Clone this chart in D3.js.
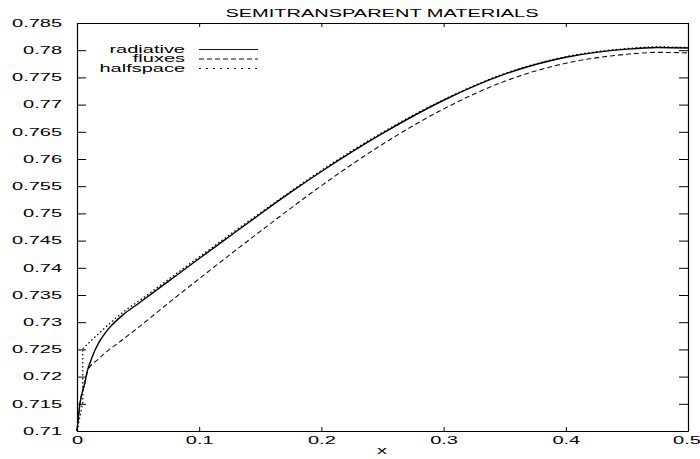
<!DOCTYPE html>
<html>
<head>
<meta charset="utf-8">
<script src="https://cdn.jsdelivr.net/npm/d3@7"></script>
<style>
  html, body { margin: 0; padding: 0; background: #fff; }
  svg { display: block; }
  text { font-family: "Liberation Sans", Arial, Helvetica, sans-serif; fill: #000; }
</style>
</head>
<body>
<svg id="chart" width="700" height="459"></svg>
<script>
// ---- data ----
const titleText = "SEMITRANSPARENT MATERIALS";
const xLabelText = "x";
const seriesNames = ["radiative", "fluxes", "halfspace"];

const xTicks = [0, 0.1, 0.2, 0.3, 0.4, 0.5];
const xTickLabels = ["0", "0.1", "0.2", "0.3", "0.4", "0.5"];
const yTicks = [0.71, 0.715, 0.72, 0.725, 0.73, 0.735, 0.74, 0.745, 0.75, 0.755, 0.76, 0.765, 0.77, 0.775, 0.78, 0.785];
const yTickLabels = ["0.71", "0.715", "0.72", "0.725", "0.73", "0.735", "0.74", "0.745", "0.75", "0.755", "0.76", "0.765", "0.77", "0.775", "0.78", "0.785"];

const radiativeX = [0, 0.0025, 0.006, 0.0088, 0.011, 0.0133, 0.0155, 0.0188, 0.023, 0.027, 0.0379, 0.05, 0.075, 0.1, 0.125, 0.15, 0.175, 0.2, 0.25, 0.3, 0.35, 0.4, 0.45, 0.475, 0.5];
const radiativeY = [0.71, 0.7152, 0.7185, 0.7213, 0.72275, 0.7241, 0.7252, 0.7266, 0.7280, 0.7291, 0.7314, 0.7334, 0.73755, 0.7417, 0.7458, 0.7499, 0.7539, 0.7577, 0.7647, 0.7708, 0.7756, 0.7787, 0.7802, 0.7805, 0.7804];

const fluxesX = [0, 0.0025, 0.006, 0.009, 0.0174, 0.0379, 0.05, 0.075, 0.1, 0.15, 0.2, 0.25, 0.3, 0.35, 0.4, 0.45, 0.475, 0.5];
const fluxesY = [0.71, 0.7151, 0.7184, 0.7212, 0.7232, 0.7269, 0.7290, 0.73355, 0.7380, 0.7467, 0.7551, 0.7627, 0.7692, 0.7743, 0.7776, 0.77925, 0.7796, 0.7795];

const halfspaceX = [0, 0.0047, 0.0047, 0.012, 0.027, 0.0379, 0.05, 0.075, 0.1, 0.15, 0.2, 0.25, 0.3, 0.35, 0.4, 0.45, 0.475, 0.5];
const halfspaceY = [0.71, 0.7152, 0.7251, 0.7267, 0.7298, 0.7319, 0.7338, 0.7379, 0.7420, 0.7501, 0.7579, 0.7649, 0.7709, 0.7757, 0.7788, 0.7803, 0.7806, 0.7805];
const halfspaceJump = 2; // index where the smooth part begins

(function () {
// ---- layout ----
const svg = d3.select("#chart");
const W = 700, H = 459;
const pLeft = 77, pRight = 688, pTop = 23, pBottom = 431;
const SX = 2; // horizontal text stretch of the original rendering
svg.append("rect").attr("width", W).attr("height", H).attr("fill", "#fff");

const x = d3.scaleLinear().domain([0, 0.5]).range([pLeft, pRight]);
const y = d3.scaleLinear().domain([0.71, 0.785]).range([pBottom, pTop]);

function styleAxis(g) {
  g.attr("font-size", 10).attr("font-family", null);
  g.select(".domain").attr("stroke", "#000").attr("stroke-width", 1.2);
  g.selectAll(".tick line").attr("stroke", "#000").attr("stroke-width", 1);
}

// left axis
const gL = svg.append("g").attr("transform", `translate(${pLeft},0)`)
  .call(d3.axisLeft(y).tickValues(yTicks).tickFormat((d, i) => yTickLabels[i])
    .tickSize(-9).tickSizeOuter(0).tickPadding(0));
styleAxis(gL);
gL.selectAll(".tick text").attr("x", -15 / SX).attr("transform", `scale(${SX},1)`).attr("fill", "#000");

// right axis (mirror ticks)
const gR = svg.append("g").attr("transform", `translate(${pRight},0)`)
  .call(d3.axisRight(y).tickValues(yTicks).tickFormat("").tickSize(-9).tickSizeOuter(0));
styleAxis(gR);

// bottom axis
const gB = svg.append("g").attr("transform", `translate(0,${pBottom})`)
  .call(d3.axisBottom(x).tickValues(xTicks).tickFormat((d, i) => xTickLabels[i])
    .tickSize(-4).tickSizeOuter(0).tickPadding(6));
styleAxis(gB);
gB.selectAll(".tick text").attr("transform", `scale(${SX},1)`).attr("fill", "#000")
  .attr("x", d => (d === 0.5 ? -0.8 : 0));

// top axis (mirror ticks)
const gT = svg.append("g").attr("transform", `translate(0,${pTop})`)
  .call(d3.axisTop(x).tickValues(xTicks).tickFormat("").tickSize(-4).tickSizeOuter(0));
styleAxis(gT);

// ---- curves ----
const zip = (xs, ys) => xs.map((v, i) => [v, ys[i]]);
const lineSmooth = d3.line().x(d => x(d[0])).y(d => y(d[1])).curve(d3.curveMonotoneX);
const lineStraight = d3.line().x(d => x(d[0])).y(d => y(d[1]));

const plot = svg.append("g");

const hs = zip(halfspaceX, halfspaceY);
const hsStyle = p => p.attr("fill", "none").attr("stroke", "#111").attr("stroke-width", 1.3).attr("stroke-dasharray", "1.6,2.4");
plot.append("path").attr("d", lineStraight(hs.slice(0, halfspaceJump + 1))).call(hsStyle);
plot.append("path").attr("d", lineSmooth(hs.slice(halfspaceJump))).call(hsStyle);

plot.append("path").attr("d", lineSmooth(zip(fluxesX, fluxesY)))
  .attr("fill", "none").attr("stroke", "#111").attr("stroke-width", 1.1).attr("stroke-dasharray", "5,3");

plot.append("path").attr("d", lineSmooth(zip(radiativeX, radiativeY)))
  .attr("fill", "none").attr("stroke", "#000").attr("stroke-width", 1.4);

// ---- legend ----
const legendStyles = [
  { dash: null, w: 1.2 },
  { dash: "5,3", w: 1.1 },
  { dash: "2,5", w: 1.2 }
];
const legendY = [49.5, 59, 68.5];
const legend = svg.append("g");
seriesNames.forEach((name, i) => {
  legend.append("text")
    .attr("transform", `translate(185,${legendY[i]}) scale(${SX},1)`)
    .attr("dy", "0.32em").attr("text-anchor", "end").attr("font-size", 10)
    .text(name);
  legend.append("line")
    .attr("x1", 199).attr("x2", 258).attr("y1", legendY[i]).attr("y2", legendY[i])
    .attr("stroke", "#111").attr("stroke-width", legendStyles[i].w)
    .attr("stroke-dasharray", legendStyles[i].dash);
});

// ---- title & axis label ----
svg.append("text").attr("transform", `translate(382,17) scale(${SX},1)`)
  .attr("text-anchor", "middle").attr("font-size", 10).text(titleText);
svg.append("text").attr("transform", `translate(382,454) scale(${SX},1)`)
  .attr("text-anchor", "middle").attr("font-size", 10).text(xLabelText);
})();
</script>
</body>
</html>
